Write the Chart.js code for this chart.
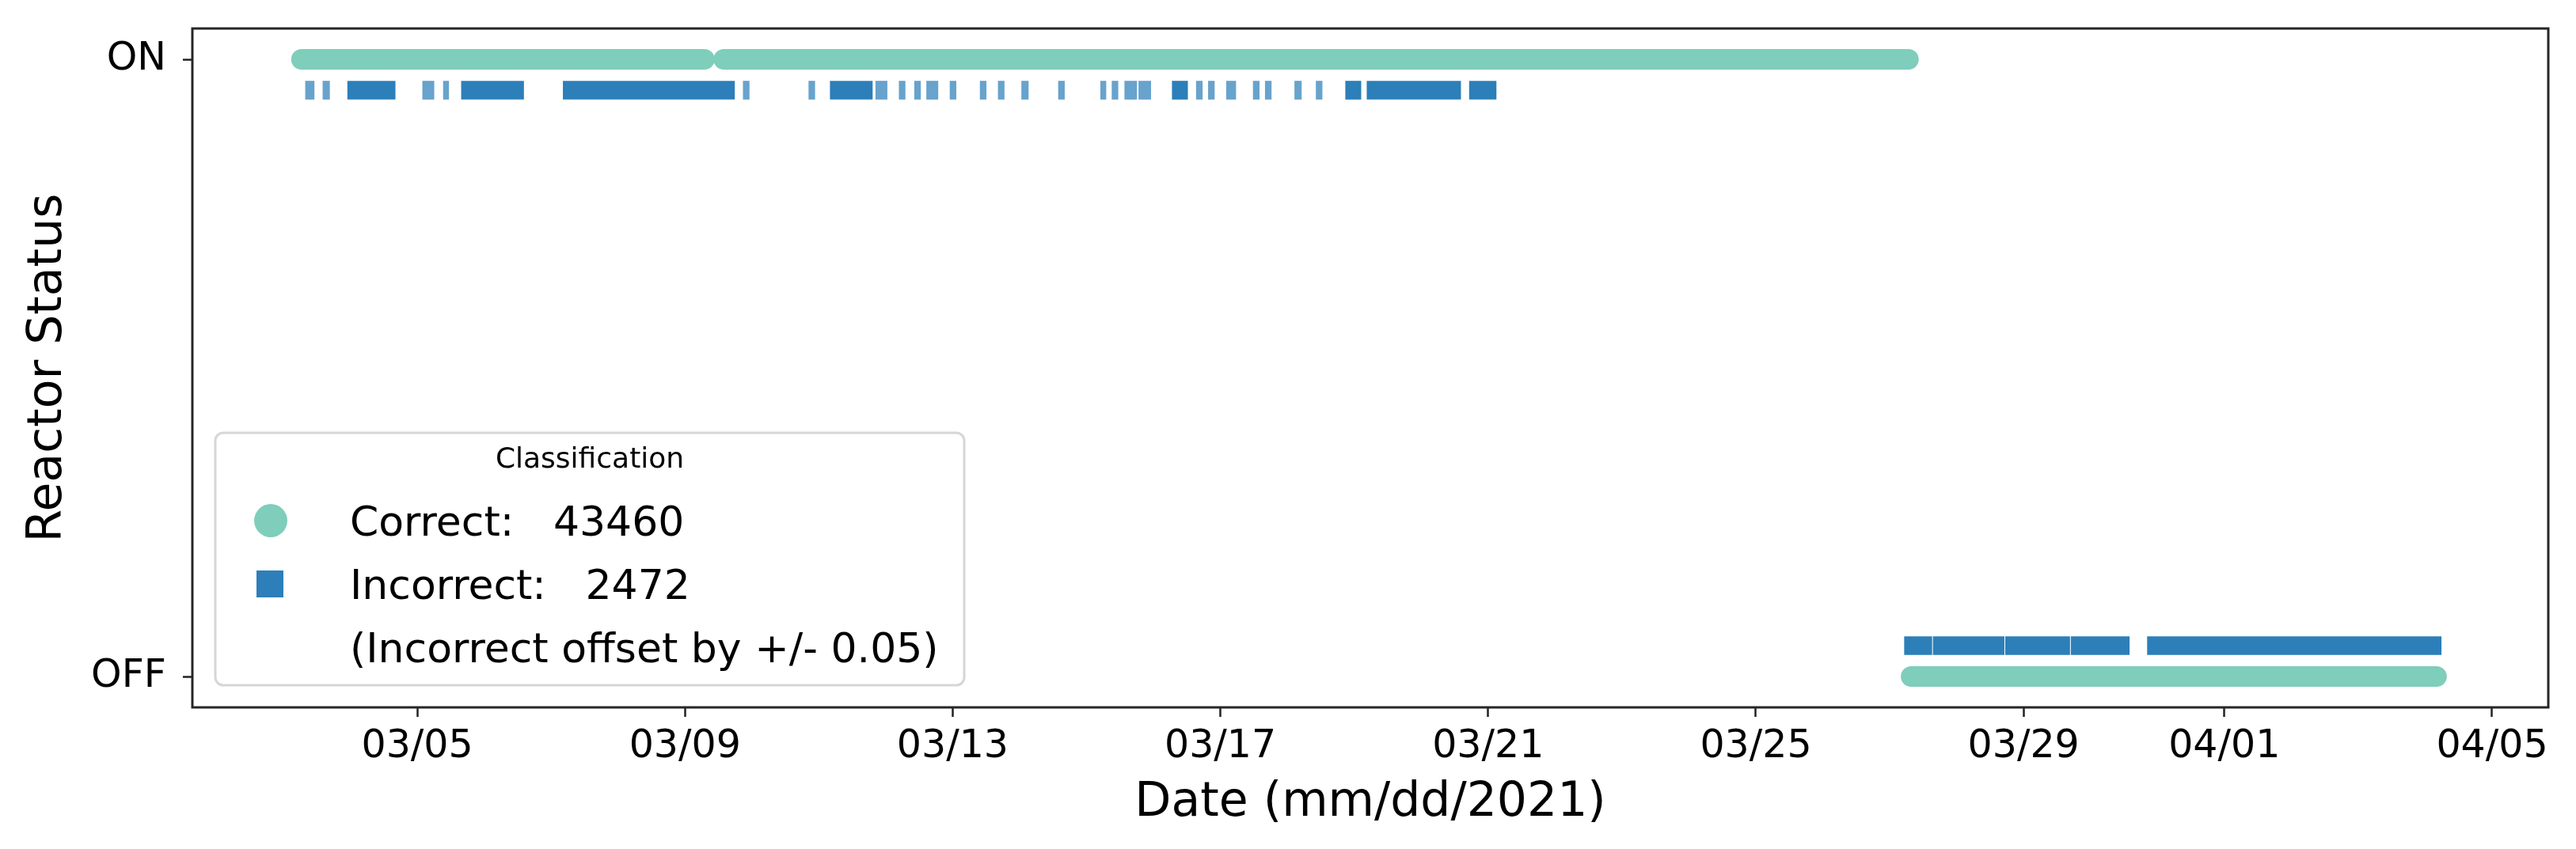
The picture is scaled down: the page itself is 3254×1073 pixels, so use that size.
<!DOCTYPE html>
<html>
<head>
<meta charset="utf-8">
<script src="https://cdn.jsdelivr.net/npm/chart.js@4.4.1/dist/chart.umd.min.js"></script>
<style>
  html, body { margin: 0; padding: 0; background: #fff; }
  #wrap { width: 3254px; height: 1073px; position: relative; }
</style>
</head>
<body>
<div id="wrap"><canvas id="mychart"></canvas></div>
<script>
// x values are days of March 2021 (32 = 04/01)
let xTickDays = [5, 9, 13, 17, 21, 25, 29, 32, 36];
let xTickLabels = ['03/05', '03/09', '03/13', '03/17', '03/21', '03/25', '03/29', '04/01', '04/05'];
let yTickValues = [0, 1];
let yTickLabels = ['OFF', 'ON'];

// correct classifications, [first, last] time of each unbroken run
let correctOn = [[3.27, 9.29], [9.58, 27.28]];
let correctOff = [[27.32, 35.17]];

// incorrect classifications, [start, end] of each visible streak
let incorrectOn = [
  [3.33, 3.46], [3.59, 3.69], [3.96, 4.67], [5.08, 5.25], [5.39, 5.47], [5.66, 6.59],
  [7.18, 9.74], [9.87, 9.96], [10.85, 10.94], [11.17, 11.80], [11.85, 12.02], [12.20, 12.29],
  [12.43, 12.52], [12.61, 12.78], [12.96, 13.05], [13.41, 13.50], [13.68, 13.77], [14.03, 14.13],
  [14.58, 14.67], [15.21, 15.29], [15.38, 15.47], [15.57, 15.75], [15.78, 15.96], [16.28, 16.51],
  [16.64, 16.73], [16.82, 16.91], [17.09, 17.23], [17.49, 17.58], [17.67, 17.76], [18.11, 18.21],
  [18.43, 18.52], [18.87, 19.10], [19.19, 20.59], [20.72, 21.12]
];
let incorrectOff = [[27.22, 27.63], [27.65, 28.71], [28.73, 29.69], [29.71, 30.58], [30.85, 35.24]];

let correctCount = 43460;
let incorrectCount = 2472;
let offset = 0.05;

const GREEN = '#7fcdbb';
const BLUE = '#2c7fb8';
const LIGHT_BLUE = 'rgba(44, 127, 184, 0.72)';

Chart.defaults.font.family = '"DejaVu Sans", sans-serif';
Chart.defaults.color = '#000';

function runLine(run, y) {
  return {
    type: 'line',
    data: [{x: run[0], y: y}, {x: run[1], y: y}],
    borderColor: GREEN,
    borderWidth: 26,
    borderCapStyle: 'round',
    pointRadius: 0,
    fill: false,
    order: 2
  };
}

let incorrectBars = incorrectOn.map(r => ({x: r, y: 1 - offset}))
  .concat(incorrectOff.map(r => ({x: r, y: offset})));

let datasets = correctOn.map(r => runLine(r, 1)).concat(correctOff.map(r => runLine(r, 0)));
datasets.push({
  type: 'bar',
  indexAxis: 'y',
  data: incorrectBars,
  barThickness: 23,
  grouped: false,
  borderWidth: 0,
  backgroundColor: (c) => {
    let r = c.raw;
    if (!r) return BLUE;
    return (r.x[1] - r.x[0] < 0.2) ? LIGHT_BLUE : BLUE;
  },
  order: 1
});

// matplotlib style box around the axes
const frame = {
  id: 'frame',
  afterDatasetsDraw(chart) {
    const {ctx, chartArea: a} = chart;
    ctx.save();
    ctx.strokeStyle = '#262626';
    ctx.lineWidth = 3;
    ctx.strokeRect(a.left, a.top, a.right - a.left, a.bottom - a.top);
    ctx.restore();
  }
};

function roundRectPath(ctx, x, y, w, h, r) {
  ctx.beginPath();
  ctx.moveTo(x + r, y);
  ctx.lineTo(x + w - r, y);
  ctx.arcTo(x + w, y, x + w, y + r, r);
  ctx.lineTo(x + w, y + h - r);
  ctx.arcTo(x + w, y + h, x + w - r, y + h, r);
  ctx.lineTo(x + r, y + h);
  ctx.arcTo(x, y + h, x, y + h - r, r);
  ctx.lineTo(x, y + r);
  ctx.arcTo(x, y, x + r, y, r);
  ctx.closePath();
}

const legendBox = {
  id: 'legendBox',
  afterDraw(chart) {
    const {ctx, chartArea: a} = chart;
    let x0 = a.left + 29, y0 = a.top + 511, w = 946, h = 319;
    ctx.save();
    roundRectPath(ctx, x0, y0, w, h, 10);
    ctx.fillStyle = 'rgba(255,255,255,0.8)';
    ctx.fill();
    ctx.strokeStyle = '#d6d6d6';
    ctx.lineWidth = 3;
    ctx.stroke();

    ctx.fillStyle = '#000';
    ctx.textBaseline = 'alphabetic';
    ctx.textAlign = 'center';
    ctx.font = '36px "DejaVu Sans"';
    ctx.fillText('Classification', x0 + w / 2, y0 + 44);

    ctx.textAlign = 'left';
    ctx.font = '52px "DejaVu Sans"';
    ctx.fillText('Correct:   ' + correctCount, x0 + 170, y0 + 130);
    ctx.fillText('Incorrect:   ' + incorrectCount, x0 + 170, y0 + 210);
    ctx.fillText('(Incorrect offset by +/- ' + offset.toFixed(2) + ')', x0 + 170, y0 + 290);

    ctx.fillStyle = GREEN;
    ctx.beginPath();
    ctx.arc(x0 + 70, y0 + 111, 21, 0, Math.PI * 2);
    ctx.fill();
    ctx.fillStyle = BLUE;
    ctx.fillRect(x0 + 52, y0 + 174, 34, 34);
    ctx.restore();
  }
};

const tickGrid = {
  display: true,
  offset: false,
  drawOnChartArea: false,
  drawTicks: true,
  tickLength: 12,
  tickWidth: 2.5,
  tickColor: '#222'
};

let ctx = document.getElementById('mychart').getContext('2d');
let myChart = new Chart(ctx, {
  type: 'scatter',
  data: { datasets: datasets },
  options: {
    responsive: true,
    maintainAspectRatio: false,
    animation: false,
    layout: { padding: {left: 0, top: 36, right: 35, bottom: 0} },
    plugins: {
      legend: { display: false },
      tooltip: { enabled: false }
    },
    scales: {
      x: {
        type: 'linear',
        min: 1.64,
        max: 36.84,
        offset: false,
        afterBuildTicks: s => { s.ticks = xTickDays.map(v => ({value: v})); },
        afterFit: s => { s.height = 179; s.paddingLeft = 0; s.paddingRight = 0; },
        ticks: {
          autoSkip: false,
          maxRotation: 0,
          padding: 9,
          font: {size: 49},
          color: '#000',
          callback: v => xTickLabels[xTickDays.indexOf(v)]
        },
        grid: tickGrid,
        border: { display: false },
        title: {
          display: true,
          text: 'Date (mm/dd/2021)',
          font: {size: 60},
          color: '#000',
          padding: {top: 0, bottom: 22}
        }
      },
      y: {
        type: 'linear',
        min: -0.05,
        max: 1.05,
        offset: false,
        afterBuildTicks: s => { s.ticks = yTickValues.map(v => ({value: v})); },
        afterFit: s => { s.width = 243; s.paddingTop = 0; s.paddingBottom = 0; },
        ticks: {
          autoSkip: false,
          padding: 21,
          font: {size: 49},
          color: '#000',
          callback: v => yTickLabels[yTickValues.indexOf(v)]
        },
        grid: tickGrid,
        border: { display: false },
        title: {
          display: true,
          text: 'Reactor Status',
          font: {size: 60},
          color: '#000',
          padding: {top: 25, bottom: 0}
        }
      }
    }
  },
  plugins: [frame, legendBox]
});
</script>
</body>
</html>
